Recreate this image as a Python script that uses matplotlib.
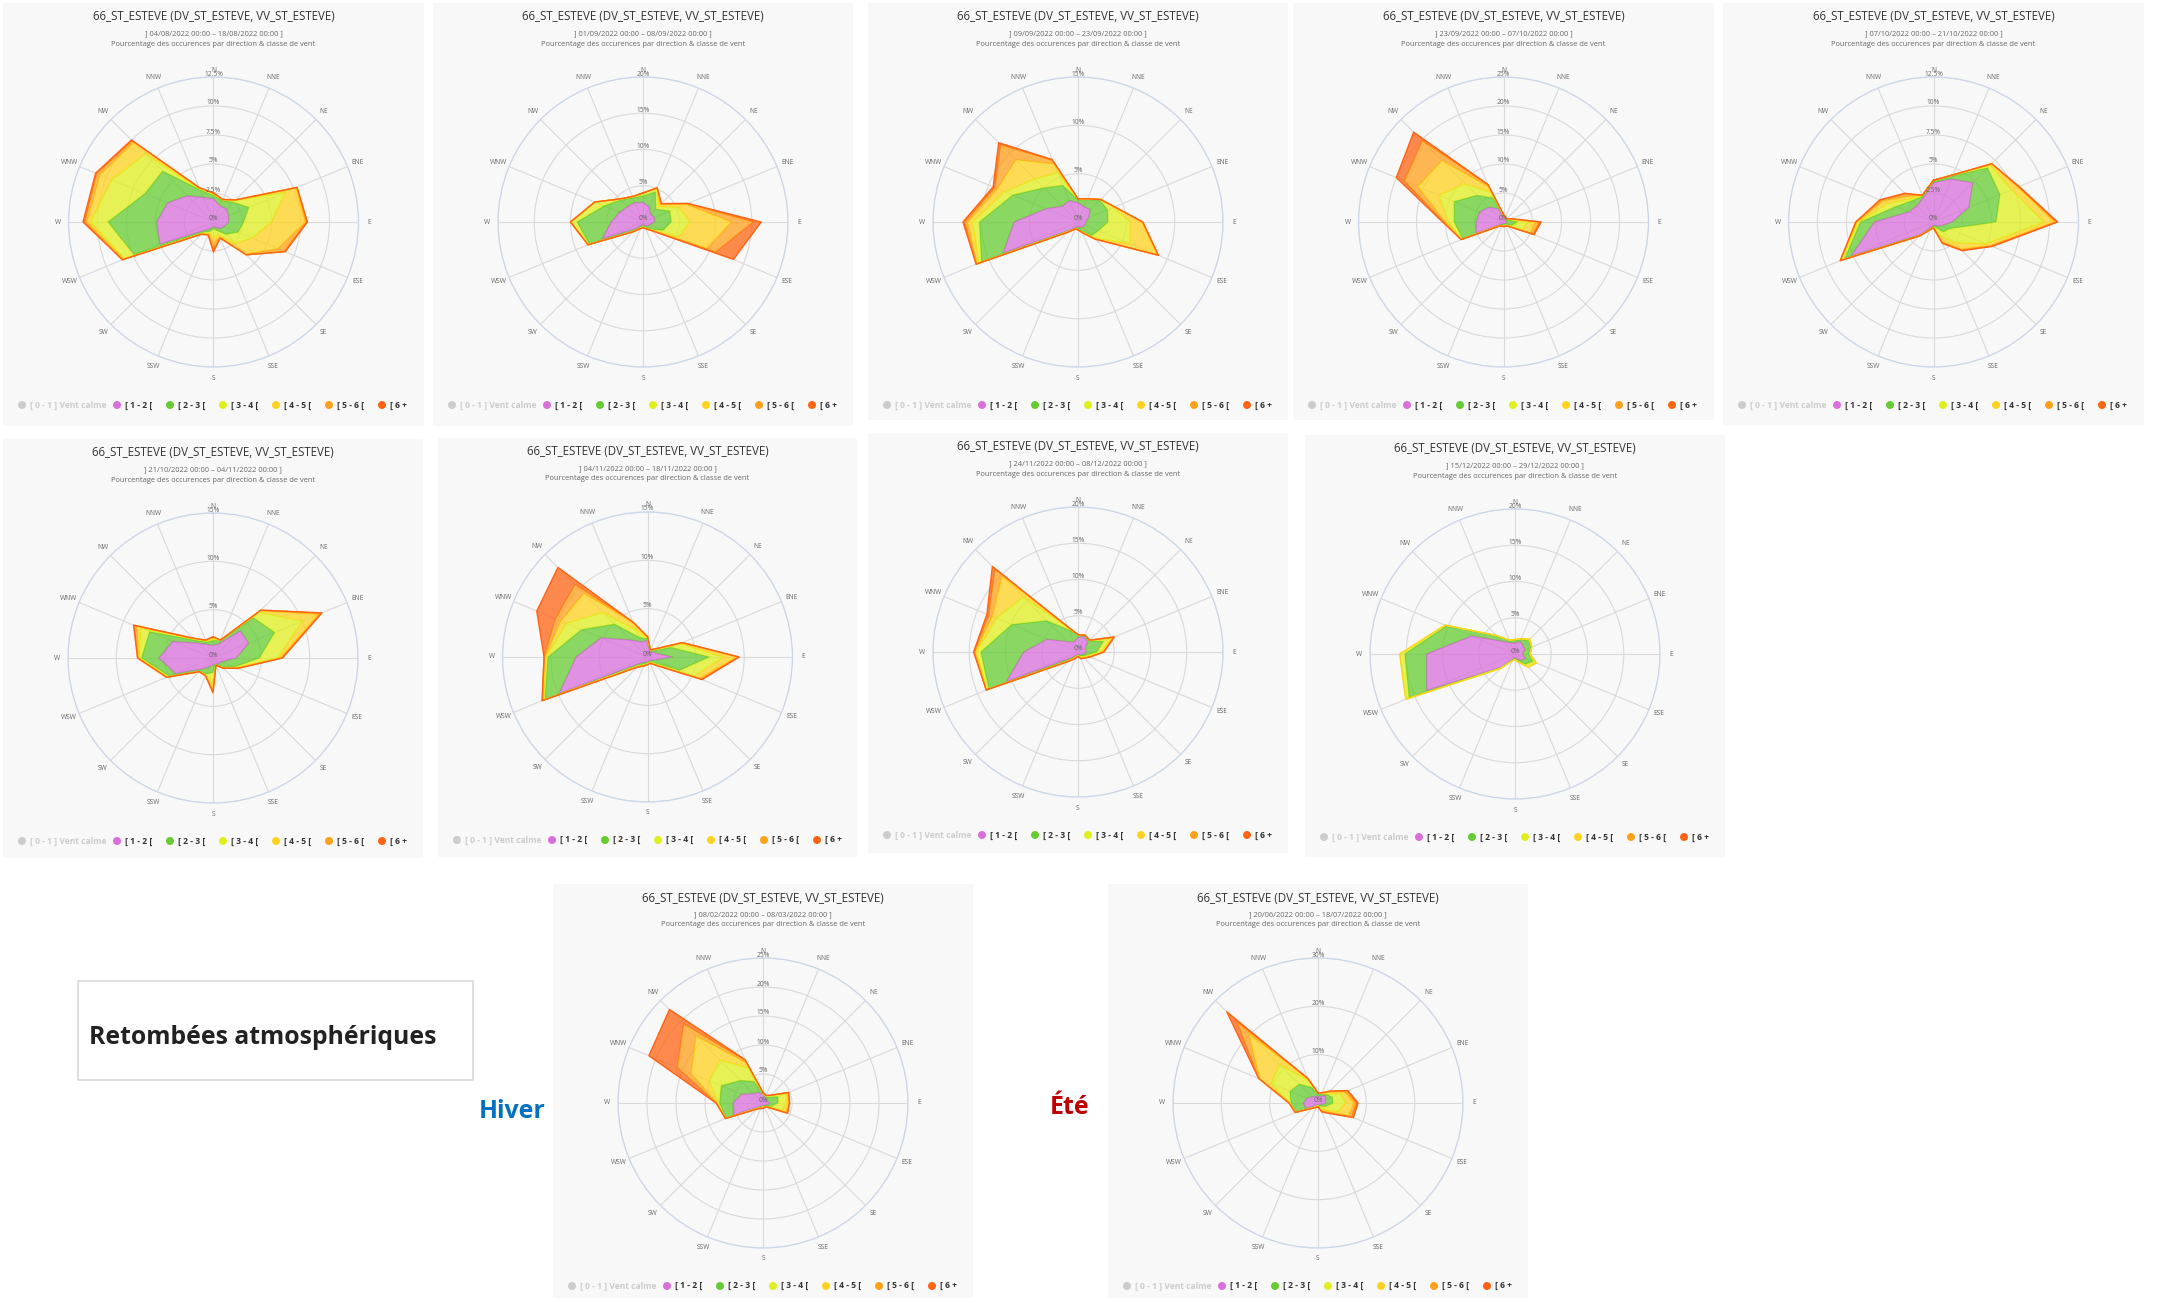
import numpy as np
import matplotlib
matplotlib.use("Agg")
import matplotlib.pyplot as plt
from matplotlib.patches import Rectangle, Ellipse
from matplotlib.transforms import offset_copy

# ---------------------------------------------------------------- data
DIRECTIONS = ["N", "NNE", "NE", "ENE", "E", "ESE", "SE", "SSE",
              "S", "SSW", "SW", "WSW", "W", "WNW", "NW", "NNW"]
CALM_CLASS = "[ 0 - 1 ] Vent calme"
SPEED_CLASSES = ["[ 1 - 2 [", "[ 2 - 3 [", "[ 3 - 4 [", "[ 4 - 5 [", "[ 5 - 6 [", "[ 6 +"]
STATION_TITLE = "66_ST_ESTEVE (DV_ST_ESTEVE, VV_ST_ESTEVE)"
SUBTITLE = "Pourcentage des occurences par direction & classe de vent"

PERIODS = [
    "] 04/08/2022 00:00 – 18/08/2022 00:00 ]",
    "] 01/09/2022 00:00 – 08/09/2022 00:00 ]",
    "] 09/09/2022 00:00 – 23/09/2022 00:00 ]",
    "] 23/09/2022 00:00 – 07/10/2022 00:00 ]",
    "] 07/10/2022 00:00 – 21/10/2022 00:00 ]",
    "] 21/10/2022 00:00 – 04/11/2022 00:00 ]",
    "] 04/11/2022 00:00 – 18/11/2022 00:00 ]",
    "] 24/11/2022 00:00 – 08/12/2022 00:00 ]",
    "] 15/12/2022 00:00 – 29/12/2022 00:00 ]",
    "] 08/02/2022 00:00 – 08/03/2022 00:00 ]",
    "] 20/06/2022 00:00 – 18/07/2022 00:00 ]",
]
AXIS_MAX = [12.5, 20, 15, 25, 12.5, 15, 15, 20, 20, 25, 30]
AXIS_STEP = [2.5, 5, 5, 5, 2.5, 5, 5, 5, 5, 5, 10]

# frequency (%) per speed class (rows) and direction (columns)
FREQ_0408 = [
    [2.0, 1.5, 1.6, 1.4, 1.3, 1.0, 0.8, 0.5, 0.4, 0.6, 1.0, 5.0, 4.9, 4.3, 3.2, 2.3],
    [0.3, 0.5, 0.8, 1.9, 1.3, 1.3, 0.7, 0.3, 0.2, 0.3, 0.3, 2.4, 4.2, 2.1, 3.0, 0.7],
    [0.1, 0.1, 0.2, 3.4, 2.4, 1.3, 1.1, 0.4, 0.7, 0.1, 0.1, 0.9, 1.5, 3.1, 2.1, 0.1],
    [0.1, 0.0, 0.1, 1.0, 2.9, 2.4, 1.3, 0.2, 0.5, 0.1, 0.1, 0.1, 0.3, 1.1, 1.4, 0.1],
    [0.0, 0.0, 0.0, 0.1, 0.1, 0.6, 0.1, 0.1, 0.5, 0.1, 0.0, 0.1, 0.2, 0.3, 0.2, 0.0],
    [0.0, 0.0, 0.0, 0.0, 0.1, 0.1, 0.0, 0.0, 0.3, 0.0, 0.0, 0.0, 0.15, 0.1, 0.1, 0.0],
]
FREQ_0109 = [
    [2.7, 2.3, 1.5, 1.7, 1.6, 1.0, 0.8, 0.5, 0.3, 0.5, 1.2, 6.1, 4.4, 3.5, 3.0, 2.9],
    [0.9, 2.2, 1.0, 2.3, 2.3, 2.0, 0.6, 0.3, 0.3, 0.3, 0.6, 1.9, 4.7, 2.3, 1.3, 0.7],
    [0.4, 0.6, 0.5, 1.3, 2.6, 2.3, 0.1, 0.1, 0.1, 0.1, 0.1, 0.2, 0.9, 1.4, 0.2, 0.2],
    [0.0, 0.0, 0.4, 1.1, 5.7, 4.2, 0.1, 0.1, 0.1, 0.1, 0.0, 0.0, 0.0, 0.0, 0.0, 0.0],
    [0.0, 0.0, 0.1, 0.2, 3.0, 1.3, 0.0, 0.0, 0.0, 0.0, 0.0, 0.0, 0.0, 0.0, 0.0, 0.0],
    [0.0, 0.0, 0.1, 0.1, 1.1, 2.7, 0.1, 0.0, 0.0, 0.0, 0.0, 0.0, 0.0, 0.0, 0.0, 0.0],
]
FREQ_0909 = [
    [2.0, 1.7, 1.8, 1.2, 0.8, 0.8, 0.7, 0.6, 0.5, 0.6, 1.2, 8.4, 6.6, 3.6, 2.3, 2.4],
    [0.3, 0.8, 1.4, 2.1, 2.3, 1.5, 1.3, 0.4, 0.2, 0.1, 0.1, 2.4, 3.6, 3.7, 2.7, 1.7],
    [0.1, 0.1, 0.1, 0.7, 2.3, 3.5, 0.3, 0.1, 0.1, 0.1, 0.1, 0.3, 0.7, 0.9, 1.3, 1.4],
    [0.0, 0.0, 0.0, 0.1, 1.2, 3.1, 0.2, 0.1, 0.0, 0.0, 0.1, 0.2, 0.5, 0.8, 2.8, 1.0],
    [0.0, 0.0, 0.0, 0.0, 0.1, 0.1, 0.0, 0.0, 0.0, 0.0, 0.0, 0.1, 0.3, 0.3, 2.2, 0.4],
    [0.0, 0.0, 0.0, 0.0, 0.0, 0.0, 0.0, 0.0, 0.0, 0.0, 0.0, 0.0, 0.2, 0.2, 0.3, 0.1],
]
FREQ_2309 = [
    [1.0, 0.6, 0.5, 0.5, 0.5, 0.5, 0.4, 0.3, 0.3, 0.4, 0.6, 5.1, 4.7, 4.5, 3.6, 2.5],
    [0.1, 0.1, 0.1, 0.5, 1.9, 1.0, 0.2, 0.2, 0.2, 0.2, 0.2, 2.5, 3.8, 4.7, 2.9, 2.0],
    [0.1, 0.0, 0.1, 0.2, 1.8, 2.0, 0.2, 0.1, 0.1, 0.1, 0.1, 0.2, 1.0, 2.8, 2.8, 1.0],
    [0.0, 0.1, 0.0, 0.1, 1.3, 1.5, 0.1, 0.1, 0.1, 0.0, 0.0, 0.1, 0.5, 4.0, 5.7, 1.0],
    [0.1, 0.0, 0.1, 0.1, 0.7, 0.5, 0.1, 0.1, 0.1, 0.1, 0.1, 0.0, 0.3, 2.5, 4.8, 0.4],
    [0.0, 0.0, 0.0, 0.1, 0.3, 0.2, 0.0, 0.0, 0.0, 0.0, 0.0, 0.0, 0.2, 1.5, 2.1, 0.1],
]
FREQ_0710 = [
    [3.4, 4.0, 4.8, 3.3, 1.6, 0.8, 0.5, 0.3, 0.3, 0.5, 1.5, 7.7, 5.1, 2.3, 2.0, 2.3],
    [0.1, 0.3, 1.8, 2.9, 3.8, 0.7, 0.7, 0.2, 0.1, 0.1, 0.1, 0.6, 1.2, 1.2, 0.6, 0.1],
    [0.1, 0.1, 0.3, 1.1, 4.1, 3.4, 1.3, 0.7, 0.1, 0.1, 0.1, 0.3, 0.2, 0.7, 0.2, 0.1],
    [0.0, 0.0, 0.2, 0.6, 0.9, 0.4, 0.8, 0.6, 0.0, 0.0, 0.0, 0.1, 0.1, 0.5, 0.3, 0.0],
    [0.0, 0.0, 0.0, 0.0, 0.2, 0.1, 0.1, 0.1, 0.0, 0.0, 0.0, 0.0, 0.1, 0.2, 0.3, 0.0],
    [0.0, 0.0, 0.0, 0.1, 0.1, 0.1, 0.1, 0.1, 0.0, 0.0, 0.0, 0.0, 0.0, 0.1, 0.1, 0.0],
]
FREQ_2110 = [
    [1.3, 1.6, 4.0, 4.0, 2.4, 1.0, 0.8, 0.7, 0.7, 1.0, 1.6, 4.2, 5.6, 4.5, 2.2, 1.5],
    [0.5, 0.4, 1.9, 2.9, 2.4, 1.4, 0.5, 0.0, 0.8, 0.8, 0.4, 0.7, 1.8, 2.6, 0.4, 0.3],
    [0.2, 0.0, 0.8, 3.1, 1.9, 0.2, 0.1, 0.1, 1.0, 0.1, 0.0, 0.2, 0.2, 1.0, 0.2, 0.1],
    [0.1, 0.0, 0.2, 1.8, 0.3, 0.1, 0.1, 0.0, 0.7, 0.1, 0.0, 0.1, 0.1, 0.4, 0.0, 0.1],
    [0.1, 0.0, 0.1, 0.3, 0.1, 0.1, 0.0, 0.0, 0.3, 0.0, 0.0, 0.0, 0.1, 0.3, 0.1, 0.0],
    [0.0, 0.0, 0.0, 0.1, 0.1, 0.0, 0.0, 0.0, 0.1, 0.0, 0.0, 0.0, 0.0, 0.1, 0.0, 0.0],
]
FREQ_0411 = [
    [1.7, 0.5, 0.8, 1.0, 2.6, 0.8, 0.5, 0.4, 0.5, 0.6, 0.8, 9.9, 7.4, 5.2, 2.5, 1.7],
    [0.2, 0.2, 0.2, 1.6, 3.8, 2.8, 0.3, 0.2, 0.1, 0.2, 0.4, 1.6, 2.9, 2.2, 2.3, 0.5],
    [0.1, 0.1, 0.1, 1.0, 1.5, 1.6, 0.2, 0.0, 0.1, 0.1, 0.1, 0.1, 0.2, 1.7, 1.7, 0.8],
    [0.1, 0.0, 0.1, 0.2, 1.3, 0.6, 0.1, 0.1, 0.1, 0.1, 0.1, 0.1, 0.1, 0.6, 2.8, 0.8],
    [0.0, 0.0, 0.0, 0.1, 0.2, 0.2, 0.1, 0.0, 0.0, 0.0, 0.1, 0.1, 0.1, 0.6, 1.3, 0.1],
    [0.0, 0.0, 0.0, 0.0, 0.1, 0.1, 0.0, 0.0, 0.0, 0.0, 0.0, 0.0, 0.0, 2.1, 2.5, 0.0],
]
FREQ_2411 = [
    [2.0, 2.3, 1.9, 1.0, 1.2, 0.8, 0.6, 0.4, 0.3, 0.5, 1.0, 10.7, 7.5, 4.6, 2.0, 1.5],
    [0.4, 0.2, 0.3, 2.8, 1.4, 0.4, 0.2, 0.2, 0.1, 0.2, 0.5, 2.6, 5.9, 5.3, 4.1, 1.8],
    [0.0, 0.0, 0.1, 1.2, 0.6, 0.3, 0.2, 0.2, 0.1, 0.1, 0.2, 0.3, 0.6, 2.3, 4.6, 0.4],
    [0.0, 0.0, 0.0, 0.3, 0.2, 0.2, 0.1, 0.1, 0.1, 0.1, 0.1, 0.1, 0.2, 0.6, 4.1, 0.1],
    [0.0, 0.0, 0.0, 0.1, 0.1, 0.1, 0.1, 0.1, 0.0, 0.0, 0.0, 0.0, 0.1, 0.5, 1.4, 0.0],
    [0.0, 0.0, 0.0, 0.0, 0.1, 0.0, 0.0, 0.0, 0.0, 0.1, 0.0, 0.0, 0.1, 0.3, 0.5, 0.0],
]
FREQ_1512 = [
    [1.5, 1.9, 1.6, 1.5, 1.0, 1.6, 1.2, 0.8, 0.5, 0.8, 2.5, 13.2, 12.2, 6.5, 2.5, 1.7],
    [0.4, 0.3, 1.0, 0.9, 0.9, 1.1, 0.8, 0.2, 0.2, 0.1, 0.2, 2.6, 3.0, 3.7, 1.0, 0.3],
    [0.1, 0.1, 0.3, 0.1, 0.2, 0.4, 0.5, 0.2, 0.1, 0.1, 0.1, 0.5, 0.7, 0.2, 0.1, 0.1],
    [0.0, 0.0, 0.0, 0.0, 0.0, 0.1, 0.1, 0.0, 0.0, 0.0, 0.0, 0.0, 0.0, 0.0, 0.0, 0.0],
    [0.0] * 16,
    [0.0] * 16,
]
FREQ_0802 = [
    [1.5, 1.0, 0.8, 0.8, 1.2, 0.8, 0.5, 0.4, 0.4, 0.6, 1.0, 5.5, 5.2, 4.0, 2.3, 2.0],
    [0.1, 0.2, 0.7, 2.0, 1.4, 0.7, 0.3, 0.2, 0.2, 0.2, 0.2, 1.4, 2.3, 3.8, 3.2, 2.0],
    [0.1, 0.1, 0.2, 1.5, 1.4, 2.0, 0.1, 0.1, 0.1, 0.1, 0.1, 0.1, 0.3, 2.2, 5.0, 2.5],
    [0.1, 0.1, 0.1, 0.3, 0.4, 0.8, 0.1, 0.0, 0.1, 0.0, 0.1, 0.0, 0.2, 3.4, 5.8, 1.0],
    [0.0, 0.0, 0.1, 0.1, 0.1, 0.2, 0.0, 0.1, 0.1, 0.1, 0.0, 0.0, 0.0, 2.6, 3.0, 0.4],
    [0.0, 0.0, 0.0, 0.1, 0.1, 0.1, 0.0, 0.0, 0.1, 0.0, 0.1, 0.0, 0.1, 5.3, 3.5, 0.2],
]
FREQ_2006 = [
    [1.4, 1.5, 2.2, 1.7, 1.5, 0.8, 0.5, 0.4, 0.4, 0.5, 1.0, 2.8, 3.0, 2.5, 1.8, 1.5],
    [0.6, 0.5, 0.3, 1.5, 1.6, 1.0, 0.5, 0.2, 0.1, 0.2, 0.2, 2.0, 2.6, 3.8, 3.7, 2.0],
    [0.1, 0.1, 0.3, 1.8, 2.6, 2.7, 1.0, 0.6, 0.1, 0.1, 0.1, 0.2, 0.2, 4.2, 5.7, 1.5],
    [0.0, 0.1, 0.4, 1.0, 1.7, 2.3, 0.5, 0.4, 0.1, 0.1, 0.1, 0.1, 0.1, 2.5, 9.0, 0.4],
    [0.0, 0.1, 0.2, 0.5, 0.5, 0.7, 0.3, 0.2, 0.1, 0.1, 0.1, 0.0, 0.1, 0.2, 3.5, 0.1],
    [0.0, 0.0, 0.1, 0.2, 0.4, 0.4, 0.2, 0.2, 0.0, 0.0, 0.0, 0.0, 0.0, 0.1, 3.0, 0.0],
]
FREQUENCIES = [FREQ_0408, FREQ_0109, FREQ_0909, FREQ_2309, FREQ_0710, FREQ_2110,
               FREQ_0411, FREQ_2411, FREQ_1512, FREQ_0802, FREQ_2006]

HEADING = "Retombées atmosphériques"
WINTER_LABEL = "Hiver"
SUMMER_LABEL = "Été"

# ---------------------------------------------------------------- styling / layout
W, H, DPI = 2157, 1303, 100
CLASS_COLORS = ["#da6fda", "#66cc33", "#e0ef1f", "#ffd21f", "#ffa01a", "#ff6414"]
CALM_COLOR = "#cccccc"
PANEL_BG = "#f8f8f8"
TEXT_DARK = "#333333"
TEXT_GREY = "#666666"

# panel frames in pixels: (left, top, right, bottom)
PANEL_BOXES = [
    (3, 3, 424, 426), (433, 3, 853, 426), (868, 3, 1288, 420),
    (1293, 3, 1714, 420), (1723, 3, 2144, 425),
    (3, 439, 423, 858), (438, 438, 857, 857), (868, 433, 1288, 853),
    (1305, 435, 1725, 857),
    (553, 884, 973, 1298), (1108, 884, 1528, 1298),
]
ROSE_RADIUS = 145

plt.rcParams["font.family"] = ["Open Sans", "DejaVu Sans"]
fig = plt.figure(figsize=(W / DPI, H / DPI), dpi=DPI, facecolor="white")
renderer = fig.canvas.get_renderer()


def fx(x):
    return x / W


def fy(y):
    return 1 - y / H


def size_for_width(s, width_px, **kw):
    t = fig.text(0, 0, s, fontsize=10, **kw)
    w = t.get_window_extent(renderer).width
    t.remove()
    return 10 * width_px / w


TITLE_SIZE = size_for_width(STATION_TITLE, 243)
SUB_SIZE = size_for_width(SUBTITLE, 205)
LEGEND_SIZE = size_for_width(SPEED_CLASSES[0], 27, fontweight="bold")

theta = np.deg2rad(np.arange(len(DIRECTIONS)) * 22.5)
theta_c = np.append(theta, theta[0])


def draw_rose(box, period, rmax, step, freq):
    x0, y0, x1, y1 = box
    fig.add_artist(Rectangle((fx(x0), fy(y1)), (x1 - x0) / W, (y1 - y0) / H,
                             transform=fig.transFigure, fc=PANEL_BG, ec="none", zorder=0))
    cx = (x0 + x1) / 2
    cy = y0 + 219
    R = ROSE_RADIUS

    fig.text(fx(cx), fy(y0 + 14), STATION_TITLE, ha="center", va="center",
             fontsize=TITLE_SIZE, color=TEXT_DARK)
    fig.text(fx(cx), fy(y0 + 31), period, ha="center", va="center",
             fontsize=SUB_SIZE, color=TEXT_GREY)
    fig.text(fx(cx), fy(y0 + 41), SUBTITLE, ha="center", va="center",
             fontsize=SUB_SIZE, color=TEXT_GREY)

    ax = fig.add_axes([fx(cx - R), fy(cy + R), 2 * R / W, 2 * R / H], projection="polar")
    ax.set_theta_zero_location("N")
    ax.set_theta_direction(-1)
    ax.set_facecolor("none")
    ax.set_ylim(0, rmax)
    rings = np.arange(step, rmax + step / 2, step)
    ax.set_xticks(theta)
    ax.set_xticklabels([])
    ax.set_yticks(rings)
    ax.set_yticklabels([])
    ax.tick_params(length=0)
    ax.grid(True, color="#d9d9d9", lw=0.8)
    ax.spines["polar"].set_color("#ccd6eb")
    ax.spines["polar"].set_linewidth(0.9)

    values = np.array(freq, dtype=float)
    cum = np.cumsum(values, axis=0)
    lower = np.zeros(len(DIRECTIONS))
    for k in range(len(SPEED_CLASSES)):
        upper = cum[k]
        uc = np.append(upper, upper[0])
        lc = np.append(lower, lower[0])
        if values[k].sum() > 0:
            ax.fill(np.concatenate([theta_c, theta_c[::-1]]),
                    np.concatenate([uc, lc[::-1]]),
                    color=CLASS_COLORS[k], alpha=0.75, lw=0, zorder=2 + k)
            ax.plot(theta_c, uc, color=CLASS_COLORS[k], lw=1.0, zorder=2.5 + k)
        lower = upper

    for i, name in enumerate(DIRECTIONS):
        off = 7 if name == "N" else 11
        ax.text(theta[i], rmax * (1 + off / R), name, ha="center", va="center",
                fontsize=4.8, color=TEXT_GREY, clip_on=False)
    tr = offset_copy(ax.transData, fig=fig, x=0, y=3, units="dots")
    for r in np.concatenate([[0], rings]):
        ax.text(0, r, f"{r:g}%", transform=tr, ha="center", va="center",
                fontsize=4.8, color=TEXT_GREY, zorder=20)

    # legend
    ly = y0 + 402
    d = 8
    fig.add_artist(Ellipse((fx(x0 + 19), fy(ly)), d / W, d / H,
                           transform=fig.transFigure, fc=CALM_COLOR, ec="none"))
    fig.text(fx(x0 + 27), fy(ly), CALM_CLASS, ha="left", va="center",
             fontsize=LEGEND_SIZE, fontweight="bold", color=CALM_COLOR)
    for k, label in enumerate(SPEED_CLASSES):
        lx = x0 + 114 + 53 * k
        fig.add_artist(Ellipse((fx(lx), fy(ly)), d / W, d / H,
                               transform=fig.transFigure, fc=CLASS_COLORS[k], ec="none"))
        fig.text(fx(lx + 8), fy(ly), label, ha="left", va="center",
                 fontsize=LEGEND_SIZE, fontweight="bold", color=TEXT_DARK)


for box, period, rmax, step, freq in zip(PANEL_BOXES, PERIODS, AXIS_MAX, AXIS_STEP, FREQUENCIES):
    draw_rose(box, period, rmax, step, freq)

# heading box and season labels
fig.add_artist(Rectangle((fx(78), fy(1080)), (473 - 78) / W, (1080 - 981) / H,
                         transform=fig.transFigure, fc="white", ec="#d9d9d9", lw=1.2))
hs = size_for_width(HEADING, 347, fontweight="bold")
fig.text(fx(89), fy(1037), HEADING, ha="left", va="center", fontsize=hs,
         fontweight="bold", color="#222222")
ws = size_for_width(WINTER_LABEL, 67, fontweight="bold")
fig.text(fx(479), fy(1112), WINTER_LABEL, ha="left", va="center", fontsize=ws,
         fontweight="bold", color="#0070c0")
fig.text(fx(1050), fy(1108), SUMMER_LABEL, ha="left", va="center", fontsize=ws,
         fontweight="bold", color="#c00000")

fig.savefig("out.png", dpi=DPI, facecolor="white")
